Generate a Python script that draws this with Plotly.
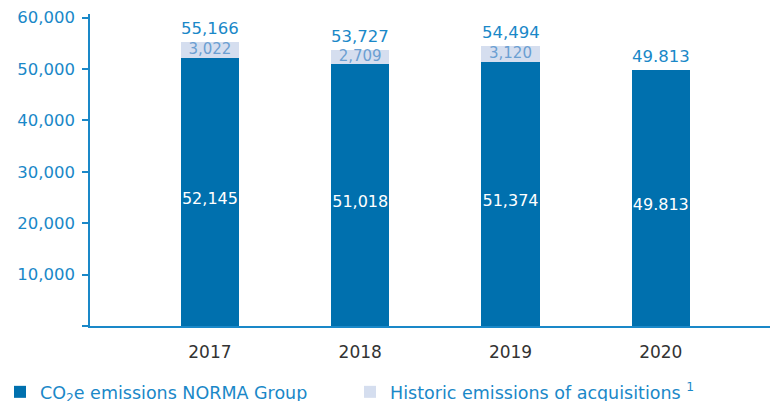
import plotly.graph_objects as go

years = ["2017", "2018", "2019", "2020"]
norma = [52145, 51018, 51374, 49813]
historic = [3022, 2709, 3120, 0]
norma_labels = ["52,145", "51,018", "51,374", "49.813"]
historic_labels = ["3,022", "2,709", "3,120", ""]
totals = [55166, 53727, 54494, 49813]
total_labels = ["55,166", "53,727", "54,494", "49.813"]
tick_vals = [0, 10000, 20000, 30000, 40000, 50000, 60000]
tick_text = ["", "10,000", "20,000", "30,000", "40,000", "50,000", "60,000"]

DARK = "#0070ae"
LIGHT = "#d5deef"
BLUE_TXT = "#1a88c8"
MID_TXT = "#6b9fd2"
FONT = "DejaVu Sans"

fig = go.Figure()
fig.add_trace(go.Bar(
    x=years, y=norma, name="CO<sub>2</sub>e emissions NORMA Group",
    marker=dict(color=DARK, line=dict(width=0)),
    hoverinfo="skip", legend="legend",
))
fig.add_trace(go.Bar(
    x=years, y=historic, name="Historic emissions of acquisitions <sup>1</sup>",
    marker=dict(color=LIGHT, line=dict(width=0)),
    hoverinfo="skip", legend="legend2",
))
# labels inside the dark bars
fig.add_trace(go.Scatter(
    x=years, y=[n / 2 for n in norma], text=norma_labels, mode="text",
    textposition="bottom center",
    textfont=dict(color="white", size=16, family=FONT),
    showlegend=False, hoverinfo="skip", cliponaxis=False,
))
# historic labels centered in light segment (only where a segment exists)
hx = [y for y, h in zip(years, historic) if h > 0]
hy = [n + h / 2 for n, h in zip(norma, historic) if h > 0]
ht = [t for t, h in zip(historic_labels, historic) if h > 0]
fig.add_trace(go.Scatter(
    x=hx, y=hy, text=ht, mode="text", textposition="middle center",
    textfont=dict(color=MID_TXT, size=15, family=FONT),
    showlegend=False, hoverinfo="skip", cliponaxis=False,
))
# totals above bars
for i, (tot, lab) in enumerate(zip(totals, total_labels)):
    fig.add_annotation(x=i, y=tot, xref="x", yref="y", text=lab, showarrow=False,
                       yanchor="bottom", yshift=2,
                       font=dict(color=BLUE_TXT, size=16.5, family=FONT))

legend_common = dict(orientation="h", xanchor="left", xref="paper",
                     y=0.023, yanchor="middle", yref="container",
                     font=dict(size=17.5, color=BLUE_TXT, family=FONT),
                     itemwidth=30, bgcolor="rgba(0,0,0,0)")

fig.update_layout(
    width=770, height=393,
    margin=dict(l=82, r=3, t=6, b=75, autoexpand=False),
    barmode="stack", bargap=0.613,
    plot_bgcolor="white", paper_bgcolor="white",
    font=dict(family=FONT, color=BLUE_TXT, size=16),
    showlegend=True,
    legend=dict(x=-0.1314, **legend_common),
    legend2=dict(x=0.3796, **legend_common),
    xaxis=dict(type="category", range=[-0.798, 3.76], showline=True,
               linecolor=BLUE_TXT, linewidth=1.5,
               ticks="", tickfont=dict(color="#333333", size=17, family=FONT),
               ticklabelstandoff=10, automargin=False,
               showgrid=False, zeroline=False, fixedrange=True),
    yaxis=dict(range=[0, 60700], showline=True, linecolor=BLUE_TXT, linewidth=1.5,
               tickvals=tick_vals, ticktext=tick_text, ticks="outside",
               ticklen=6, tickcolor=BLUE_TXT, tickwidth=1.5, ticklabelstandoff=4,
               tickfont=dict(color=BLUE_TXT, size=16.5, family=FONT), automargin=False,
               showgrid=False, zeroline=False, fixedrange=True),
)

fig.write_html("out.html")
